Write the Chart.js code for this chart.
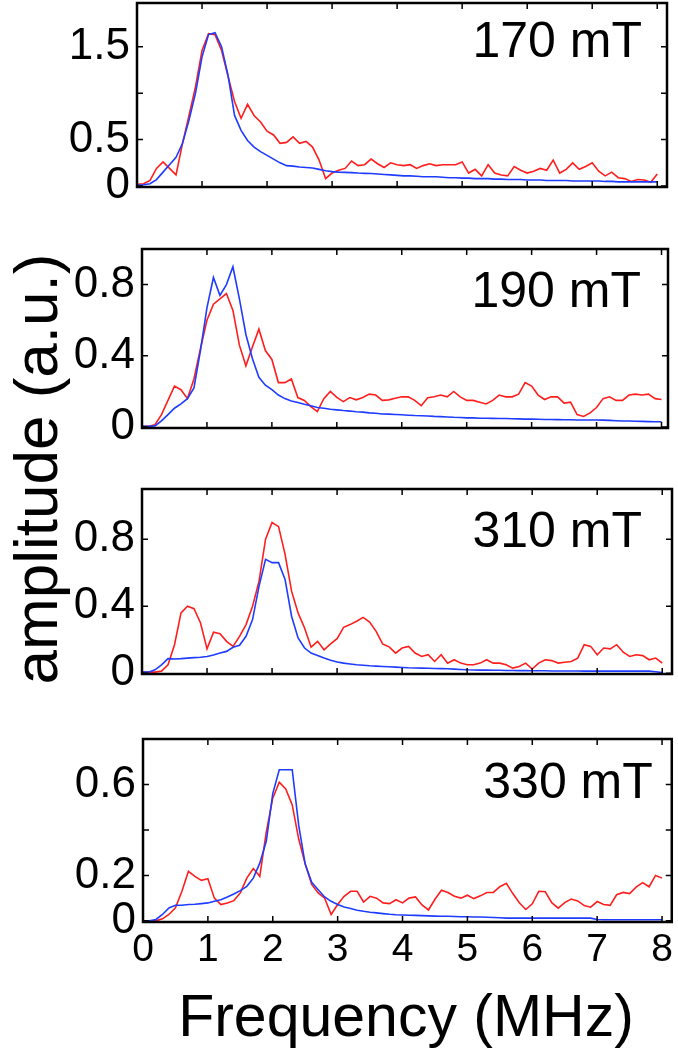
<!DOCTYPE html>
<html>
<head>
<meta charset="utf-8">
<script src="https://cdn.jsdelivr.net/npm/chart.js@4.4.1/dist/chart.umd.min.js"></script>
<style>
  html, body { margin: 0; padding: 0; background: #fff; overflow: hidden; }
  body { width: 678px; height: 1050px; position: relative; font-family: "Liberation Sans", Arial, sans-serif; }
  canvas { position: absolute; left: 0; }
  .ylab { position: absolute; left: -214px; top: 438px; width: 500px; height: 62px; line-height: 62px;
          font-size: 62px; text-align: center; transform: rotate(-90deg); color: #000; white-space: nowrap; }
  .xlab { position: absolute; left: 106px; top: 987px; width: 600px; height: 59px; line-height: 59px;
          font-size: 59px; text-align: center; color: #000; white-space: nowrap; }
</style>
</head>
<body>
<canvas id="p170" width="678" height="264" style="top:-37px"></canvas>
<canvas id="p190" width="678" height="259" style="top:209px"></canvas>
<canvas id="p310" width="678" height="265" style="top:449px"></canvas>
<canvas id="p330" width="678" height="273" style="top:699px"></canvas>
<div class="ylab">amplitude (a.u.)</div>
<div class="xlab">Frequency (MHz)</div>
<script>
// frequency grid (MHz)
const freq = [0, 0.1, 0.2, 0.3, 0.4, 0.5, 0.6, 0.7, 0.8, 0.9,
  1.0, 1.1, 1.2, 1.3, 1.4, 1.5, 1.6, 1.7, 1.8, 1.9,
  2.0, 2.1, 2.2, 2.3, 2.4, 2.5, 2.6, 2.7, 2.8, 2.9,
  3.0, 3.1, 3.2, 3.3, 3.4, 3.5, 3.6, 3.7, 3.8, 3.9,
  4.0, 4.1, 4.2, 4.3, 4.4, 4.5, 4.6, 4.7, 4.8, 4.9,
  5.0, 5.1, 5.2, 5.3, 5.4, 5.5, 5.6, 5.7, 5.8, 5.9,
  6.0, 6.1, 6.2, 6.3, 6.4, 6.5, 6.6, 6.7, 6.8, 6.9,
  7.0, 7.1, 7.2, 7.3, 7.4, 7.5, 7.6, 7.7, 7.8, 7.9, 8.0];
const xTicks = [0, 1, 2, 3, 4, 5, 6, 7, 8];

// 170 mT
const red170 = [0.02, 0.025, 0.06, 0.19, 0.26, 0.19, 0.12, 0.46, 0.76, 1.07,
  1.46, 1.64, 1.63, 1.46, 1.18, 0.91, 0.73, 0.88, 0.76, 0.69,
  0.59, 0.55, 0.46, 0.47, 0.53, 0.46, 0.48, 0.42, 0.28, 0.08,
  0.14, 0.17, 0.19, 0.27, 0.22, 0.23, 0.29, 0.24, 0.20, 0.25,
  0.23, 0.22, 0.23, 0.19, 0.22, 0.24, 0.22, 0.23, 0.23, 0.23,
  0.26, 0.14, 0.18, 0.11, 0.23, 0.14, 0.12, 0.11, 0.21, 0.17,
  0.14, 0.16, 0.19, 0.17, 0.28, 0.14, 0.18, 0.25, 0.18, 0.21,
  0.25, 0.16, 0.11, 0.15, 0.09, 0.08, 0.05, 0.07, 0.065, 0.04, 0.13];
const blue170 = [0.01, 0.015, 0.025, 0.07, 0.15, 0.23, 0.31, 0.46, 0.71, 1.0,
  1.39, 1.63, 1.65, 1.50, 1.19, 0.76, 0.60, 0.49, 0.42, 0.37,
  0.33, 0.29, 0.25, 0.22, 0.215, 0.205, 0.20, 0.195, 0.18, 0.165,
  0.155, 0.15, 0.147, 0.145, 0.14, 0.137, 0.135, 0.13, 0.125, 0.12,
  0.115, 0.11, 0.11, 0.105, 0.10, 0.10, 0.10, 0.095, 0.09, 0.09,
  0.085, 0.085, 0.08, 0.08, 0.08, 0.075, 0.075, 0.07, 0.07, 0.07,
  0.065, 0.065, 0.065, 0.06, 0.06, 0.06, 0.06, 0.055, 0.055, 0.055,
  0.055, 0.055, 0.05, 0.05, 0.045, 0.045, 0.045, 0.045, 0.045, 0.045, 0.045];

// 190 mT
const red190 = [0.004, 0.004, 0.013, 0.07, 0.15, 0.23, 0.21, 0.16, 0.27, 0.44,
  0.60, 0.69, 0.72, 0.75, 0.655, 0.46, 0.344, 0.45, 0.55, 0.43,
  0.38, 0.25, 0.25, 0.27, 0.166, 0.15, 0.115, 0.087, 0.16, 0.20,
  0.167, 0.143, 0.166, 0.153, 0.166, 0.185, 0.18, 0.15, 0.153, 0.162,
  0.17, 0.17, 0.15, 0.12, 0.165, 0.17, 0.18, 0.17, 0.20, 0.17,
  0.15, 0.15, 0.14, 0.13, 0.15, 0.18, 0.17, 0.17, 0.185, 0.25,
  0.23, 0.18, 0.155, 0.17, 0.17, 0.135, 0.14, 0.07, 0.06, 0.08,
  0.11, 0.16, 0.17, 0.15, 0.15, 0.18, 0.185, 0.18, 0.185, 0.16, 0.155];
const blue190 = [0.004, 0.004, 0.007, 0.035, 0.07, 0.106, 0.13, 0.16, 0.22, 0.43,
  0.67, 0.84, 0.74, 0.80, 0.90, 0.72, 0.52, 0.385, 0.28, 0.235,
  0.21, 0.18, 0.16, 0.147, 0.138, 0.128, 0.12, 0.11, 0.106, 0.10,
  0.097, 0.093, 0.09, 0.086, 0.084, 0.08, 0.078, 0.074, 0.073, 0.071,
  0.069, 0.067, 0.065, 0.064, 0.062, 0.06, 0.059, 0.057, 0.055, 0.054,
  0.052, 0.052, 0.05, 0.05, 0.049, 0.048, 0.048, 0.047, 0.046, 0.045,
  0.045, 0.044, 0.043, 0.043, 0.042, 0.041, 0.041, 0.04, 0.04, 0.04,
  0.04, 0.039, 0.038, 0.036, 0.034, 0.034, 0.033, 0.032, 0.031, 0.03, 0.03];

// 310 mT
const red310 = [0.006, 0.006, 0.006, 0.012, 0.05, 0.17, 0.36, 0.40, 0.385, 0.30,
  0.145, 0.245, 0.236, 0.19, 0.16, 0.22, 0.29, 0.40, 0.55, 0.80,
  0.90, 0.875, 0.71, 0.49, 0.36, 0.27, 0.155, 0.19, 0.14, 0.175,
  0.206, 0.274, 0.29, 0.31, 0.333, 0.305, 0.25, 0.175, 0.157, 0.12,
  0.15, 0.16, 0.12, 0.10, 0.11, 0.07, 0.11, 0.06, 0.08, 0.06,
  0.05, 0.05, 0.06, 0.08, 0.06, 0.06, 0.05, 0.03, 0.04, 0.06,
  0.025, 0.06, 0.08, 0.075, 0.06, 0.065, 0.07, 0.09, 0.17, 0.16,
  0.11, 0.15, 0.145, 0.17, 0.125, 0.10, 0.11, 0.105, 0.08, 0.09, 0.06];
const blue310 = [0.006, 0.006, 0.02, 0.05, 0.087, 0.085, 0.087, 0.09, 0.093, 0.095,
  0.10, 0.109, 0.12, 0.13, 0.155, 0.167, 0.22, 0.32, 0.52, 0.68,
  0.66, 0.66, 0.56, 0.34, 0.21, 0.15, 0.12, 0.105, 0.09, 0.077,
  0.067, 0.06, 0.055, 0.05, 0.047, 0.044, 0.042, 0.04, 0.038, 0.036,
  0.034, 0.032, 0.031, 0.03, 0.029, 0.028, 0.027, 0.026, 0.024, 0.022,
  0.02, 0.019, 0.018, 0.018, 0.017, 0.017, 0.016, 0.016, 0.015, 0.015,
  0.014, 0.014, 0.014, 0.013, 0.013, 0.013, 0.013, 0.013, 0.012, 0.012,
  0.012, 0.012, 0.012, 0.012, 0.012, 0.012, 0.012, 0.012, 0.012, 0.008, 0.003];

// 330 mT
const red330 = [0, 0, 0, 0.009, 0.028, 0.057, 0.13, 0.218, 0.196, 0.178,
  0.185, 0.10, 0.072, 0.079, 0.089, 0.123, 0.188, 0.23, 0.196, 0.39,
  0.54, 0.61, 0.58, 0.51, 0.36, 0.25, 0.16, 0.123, 0.10, 0.028,
  0.072, 0.108, 0.13, 0.13, 0.083, 0.108, 0.10, 0.079, 0.076, 0.093,
  0.079, 0.10, 0.105, 0.07, 0.048, 0.095, 0.135, 0.125, 0.108, 0.10,
  0.113, 0.098, 0.11, 0.125, 0.125, 0.15, 0.165, 0.12, 0.08, 0.05,
  0.075, 0.13, 0.128, 0.08, 0.056, 0.08, 0.096, 0.088, 0.067, 0.06,
  0.085, 0.072, 0.068, 0.115, 0.125, 0.12, 0.148, 0.168, 0.15, 0.20, 0.188];
const blue330 = [0, 0, 0.006, 0.028, 0.057, 0.069, 0.069, 0.072, 0.073, 0.076,
  0.079, 0.086, 0.093, 0.105, 0.118, 0.133, 0.152, 0.188, 0.254, 0.35,
  0.56, 0.665, 0.665, 0.665, 0.42, 0.25, 0.17, 0.137, 0.105, 0.086,
  0.072, 0.061, 0.054, 0.047, 0.042, 0.038, 0.035, 0.032, 0.029, 0.027,
  0.026, 0.025, 0.024, 0.023, 0.022, 0.021, 0.02, 0.02, 0.019, 0.018,
  0.018, 0.017, 0.017, 0.016, 0.015, 0.014, 0.012, 0.012, 0.012, 0.012,
  0.012, 0.012, 0.012, 0.012, 0.012, 0.012, 0.012, 0.012, 0.012, 0.012,
  0.006, 0.005, 0.005, 0.005, 0.005, 0.005, 0.005, 0.005, 0.005, 0.005, 0.005];

Chart.defaults.font.family = '"Liberation Sans", Arial, sans-serif';
Chart.defaults.color = '#000';

// frame + inward ticks + field label
const framePlugin = {
  id: 'frame',
  afterDraw(chart, args, opts) {
    const { ctx, chartArea: a, scales } = chart;
    ctx.save();
    ctx.strokeStyle = '#000';
    ctx.lineWidth = 1.5;
    ctx.beginPath();
    scales.x.ticks.forEach(t => {
      const px = scales.x.getPixelForValue(t.value);
      ctx.moveTo(px, a.bottom); ctx.lineTo(px, a.bottom - 6);
      ctx.moveTo(px, a.top); ctx.lineTo(px, a.top + 6);
    });
    scales.y.ticks.forEach(t => {
      const py = scales.y.getPixelForValue(t.value);
      ctx.moveTo(a.left, py); ctx.lineTo(a.left + 6, py);
      ctx.moveTo(a.right, py); ctx.lineTo(a.right - 6, py);
    });
    ctx.stroke();
    ctx.lineWidth = 2.5;
    ctx.strokeRect(a.left, a.top, a.right - a.left, a.bottom - a.top);
    ctx.fillStyle = '#000';
    ctx.font = '50px "Liberation Sans", Arial, sans-serif';
    ctx.textAlign = 'right';
    ctx.textBaseline = 'alphabetic';
    ctx.fillText(opts.text, a.right - opts.dx, a.top + opts.dy);
    ctx.restore();
  }
};

function makePanel(id, p) {
  const ctx = document.getElementById(id).getContext('2d');
  return new Chart(ctx, {
    type: 'line',
    data: {
      datasets: [{
        data: freq.map((f, i) => ({ x: f, y: p.blue[i] })),
        borderColor: 'rgb(30,60,255)',
        borderWidth: 1.6,
        pointRadius: 0,
        tension: 0
      }, {
        data: freq.map((f, i) => ({ x: f, y: p.red[i] })),
        borderColor: 'rgb(255,30,30)',
        borderWidth: 1.6,
        pointRadius: 0,
        tension: 0
      }]
    },
    options: {
      responsive: false,
      animation: false,
      events: [],
      layout: { padding: { left: 0, right: p.padRight, top: 40, bottom: p.padBottom } },
      plugins: {
        legend: { display: false },
        tooltip: { enabled: false },
        frame: { text: p.label, dx: p.labelDx, dy: p.labelDy }
      },
      scales: {
        x: {
          type: 'linear',
          min: 0,
          max: p.xMax,
          grid: { display: false, drawTicks: false },
          border: { display: false },
          afterBuildTicks: s => { s.ticks = xTicks.map(v => ({ value: v })); },
          afterFit: s => { s.height = p.xHeight; },
          ticks: {
            display: p.xLabels,
            padding: 5,
            font: { size: 39 },
            callback: v => String(v)
          }
        },
        y: {
          min: p.yMin,
          max: p.yMax,
          grid: { display: false, drawTicks: false },
          border: { display: false },
          afterBuildTicks: s => { s.ticks = p.yTicks.map(v => ({ value: v })); },
          afterFit: s => { s.width = p.left; },
          ticks: {
            padding: 7,
            font: { size: 44 },
            callback: v => (p.yLabels.includes(v) ? String(v) : '')
          }
        }
      }
    },
    plugins: [framePlugin]
  });
}

makePanel('p170', { red: red170, blue: blue170, label: '170 mT', labelDx: 25, labelDy: 54,
  left: 137, padRight: 11, padBottom: 40, xHeight: 0, xLabels: false, xMax: 8.15,
  yMin: -0.01, yMax: 1.97, yTicks: [0, 0.5, 1, 1.5], yLabels: [0, 0.5, 1.5] });
makePanel('p190', { red: red190, blue: blue190, label: '190 mT', labelDx: 27, labelDy: 58,
  left: 142, padRight: 10, padBottom: 40, xHeight: 0, xLabels: false, xMax: 8.1,
  yMin: -0.005, yMax: 1.0, yTicks: [0, 0.2, 0.4, 0.6, 0.8], yLabels: [0, 0.4, 0.8] });
makePanel('p310', { red: red310, blue: blue310, label: '310 mT', labelDx: 30, labelDy: 58,
  left: 142, padRight: 6, padBottom: 40, xHeight: 0, xLabels: false, xMax: 8.15,
  yMin: -0.005, yMax: 1.1, yTicks: [0, 0.2, 0.4, 0.6, 0.8, 1.0], yLabels: [0, 0.4, 0.8] });
makePanel('p330', { red: red330, blue: blue330, label: '330 mT', labelDx: 19, labelDy: 59,
  left: 143, padRight: 6, padBottom: 0, xHeight: 50, xLabels: true, xMax: 8.15,
  yMin: -0.005, yMax: 0.8, yTicks: [0, 0.2, 0.4, 0.6], yLabels: [0, 0.2, 0.6] });
</script>
</body>
</html>
